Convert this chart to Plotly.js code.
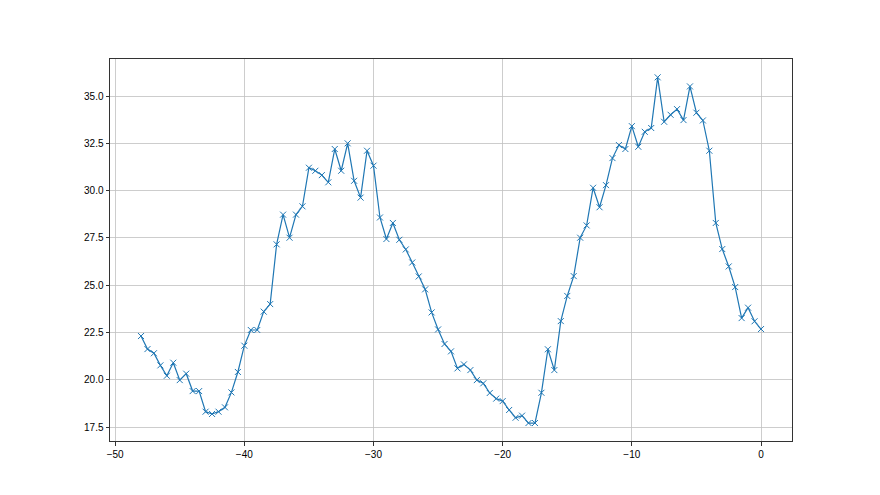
<!DOCTYPE html>
<html>
<head>
<meta charset="utf-8">
<script src="https://cdn.plot.ly/plotly-3.0.1.min.js"></script>
<style>
  html, body { margin: 0; padding: 0; background: #fff; }
  #chart { width: 880px; height: 495px; }
</style>
</head>
<body>
<div id="chart"></div>
<script>
const xValues = [
  -48, -47.5, -47, -46.5, -46, -45.5, -45, -44.5, -44, -43.5,
  -43, -42.5, -42, -41.5, -41, -40.5, -40, -39.5, -39, -38.5,
  -38, -37.5, -37, -36.5, -36, -35.5, -35, -34.5, -34, -33.5,
  -33, -32.5, -32, -31.5, -31, -30.5, -30, -29.5, -29, -28.5,
  -28, -27.5, -27, -26.5, -26, -25.5, -25, -24.5, -24, -23.5,
  -23, -22.5, -22, -21.5, -21, -20.5, -20, -19.5, -19, -18.5,
  -18, -17.5, -17, -16.5, -16, -15.5, -15, -14.5, -14, -13.5,
  -13, -12.5, -12, -11.5, -11, -10.5, -10, -9.5, -9, -8.5,
  -8, -7.5, -7, -6.5, -6, -5.5, -5, -4.5, -4, -3.5,
  -3, -2.5, -2, -1.5, -1, -0.5, 0
];
const yValues = [
  22.31, 21.62, 21.40, 20.76, 20.21, 20.90, 19.98, 20.32, 19.40, 19.40,
  18.31, 18.19, 18.31, 18.54, 19.33, 20.41, 21.80, 22.63, 22.63, 23.60,
  24.00, 27.16, 28.73, 27.51, 28.73, 29.17, 31.21, 31.05, 30.82, 30.44,
  32.20, 31.05, 32.50, 30.52, 29.63, 32.11, 31.32, 28.58, 27.44, 28.29,
  27.40, 26.89, 26.20, 25.46, 24.78, 23.56, 22.66, 21.89, 21.50, 20.60,
  20.81, 20.51, 19.98, 19.81, 19.30, 19.00, 18.87, 18.40, 17.99, 18.10,
  17.71, 17.71, 19.31, 21.61, 20.51, 23.10, 24.43, 25.48, 27.51, 28.16,
  30.15, 29.12, 30.29, 31.72, 32.41, 32.20, 33.41, 32.32, 33.11, 33.31,
  35.99, 33.64, 34.01, 34.31, 33.73, 35.51, 34.12, 33.71, 32.11, 28.29,
  26.91, 25.99, 24.90, 23.26, 23.81, 23.09, 22.68
];
const xTicks = [-50, -40, -30, -20, -10, 0];
const yTicks = [17.5, 20.0, 22.5, 25.0, 27.5, 30.0, 32.5, 35.0];

const trace = {
  x: xValues,
  y: yValues,
  type: 'scatter',
  mode: 'lines+markers',
  line: { color: '#1f77b4', width: 1.2 },
  marker: { symbol: 'x-thin', size: 6, color: '#1f77b4', line: { width: 1, color: '#1f77b4' } },
  hoverinfo: 'skip'
};

const tickFont = { family: '"Liberation Sans Narrow", "Liberation Sans", sans-serif', size: 10, color: '#000' };

const axisCommon = {
  showline: true,
  mirror: true,
  linecolor: '#333',
  linewidth: 1,
  ticks: 'outside',
  ticklen: 3.5,
  tickwidth: 0.8,
  tickcolor: '#000',
  showgrid: true,
  gridcolor: '#c0c0c0',
  gridwidth: 0.8,
  zeroline: false,
  tickfont: tickFont
};

const layout = {
  width: 880,
  height: 495,
  margin: { l: 110, r: 88, t: 59, b: 54, pad: 0 },
  paper_bgcolor: '#fff',
  plot_bgcolor: '#fff',
  showlegend: false,
  font: tickFont,
  xaxis: Object.assign({}, axisCommon, {
    range: [-50.4, 2.4],
    tickmode: 'array',
    tickvals: xTicks,
    ticktext: xTicks.map(v => v < 0 ? '\u2212' + Math.abs(v) : String(v))
  }),
  yaxis: Object.assign({}, axisCommon, {
    range: [16.76, 36.96],
    tickmode: 'array',
    tickvals: yTicks,
    ticktext: yTicks.map(v => v.toFixed(1))
  })
};

Plotly.newPlot('chart', [trace], layout, { displayModeBar: false, staticPlot: true });
</script>
</body>
</html>
